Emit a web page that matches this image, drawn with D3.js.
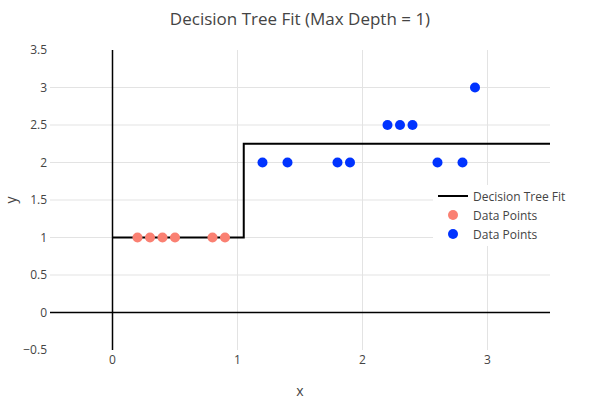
<!DOCTYPE html>
<html>
<head>
<meta charset="utf-8">
<script src="https://cdn.jsdelivr.net/npm/d3@7"></script>
<style>
  body { margin: 0; background: #fff; }
  text { font-family: "Open Sans", sans-serif; fill: #444; }
</style>
</head>
<body>
<svg id="chart"></svg>
<script>
const redX = [0.2, 0.3, 0.4, 0.5, 0.8, 0.9];
const redY = [1, 1, 1, 1, 1, 1];
const blueX = [1.2, 1.4, 1.8, 1.9, 2.2, 2.3, 2.4, 2.6, 2.8, 2.9];
const blueY = [2, 2, 2, 2, 2.5, 2.5, 2.5, 2, 2, 3];
const fitX = [0, 1.05, 3.6];
const fitY = [1, 2.25, 2.25];
const xTicks = [0, 1, 2, 3];
const yTicks = [-0.5, 0, 0.5, 1, 1.5, 2, 2.5, 3, 3.5];
const legendLabels = ["Decision Tree Fit", "Data Points", "Data Points"];

const width = 600, height = 400;
const margin = {top: 50, right: 50, bottom: 50, left: 50};

const svg = d3.select("#chart").attr("width", width).attr("height", height);

const x = d3.scaleLinear().domain([-0.5, 3.5]).range([margin.left, width - margin.right]);
const y = d3.scaleLinear().domain([-0.5, 3.5]).range([height - margin.bottom, margin.top]);

svg.append("defs").append("clipPath").attr("id", "clip")
  .append("rect")
  .attr("x", margin.left).attr("y", margin.top)
  .attr("width", width - margin.left - margin.right)
  .attr("height", height - margin.top - margin.bottom);

// grid
svg.append("g")
  .selectAll("line")
  .data(xTicks.filter(d => d !== 0))
  .enter().append("line")
  .attr("x1", d => x(d)).attr("x2", d => x(d))
  .attr("y1", margin.top).attr("y2", height - margin.bottom)
  .attr("stroke", "#e3e3e3");

svg.append("g")
  .selectAll("line")
  .data(yTicks.filter(d => d !== 0 && d > -0.5 && d < 3.5))
  .enter().append("line")
  .attr("x1", margin.left).attr("x2", width - margin.right)
  .attr("y1", d => y(d)).attr("y2", d => y(d))
  .attr("stroke", "#e3e3e3");

// zero lines
svg.append("line")
  .attr("x1", x(0)).attr("x2", x(0))
  .attr("y1", margin.top).attr("y2", height - margin.bottom)
  .attr("stroke", "#000").attr("stroke-width", 1.5);
svg.append("line")
  .attr("x1", margin.left).attr("x2", width - margin.right)
  .attr("y1", y(0)).attr("y2", y(0))
  .attr("stroke", "#000").attr("stroke-width", 1.5);

// tick labels
svg.append("g")
  .selectAll("text")
  .data(xTicks)
  .enter().append("text")
  .attr("x", d => x(d))
  .attr("y", height - margin.bottom + 14)
  .attr("text-anchor", "middle")
  .attr("font-size", 12)
  .text(d => d);

svg.append("g")
  .selectAll("text")
  .data(yTicks)
  .enter().append("text")
  .attr("x", margin.left - 3)
  .attr("y", d => y(d) + 4)
  .attr("text-anchor", "end")
  .attr("font-size", 12)
  .text(d => d < 0 ? "\u2212" + Math.abs(d) : d);

// fit line
const line = d3.line().x(d => x(d[0])).y(d => y(d[1])).curve(d3.curveStepAfter);
svg.append("path")
  .datum(fitX.map((d, i) => [d, fitY[i]]))
  .attr("clip-path", "url(#clip)")
  .attr("d", line)
  .attr("fill", "none")
  .attr("stroke", "#000")
  .attr("stroke-width", 2);

// points
svg.append("g")
  .selectAll("circle")
  .data(redX.map((d, i) => [d, redY[i]]))
  .enter().append("circle")
  .attr("cx", d => x(d[0])).attr("cy", d => y(d[1]))
  .attr("r", 5)
  .attr("fill", "#fa8072");

svg.append("g")
  .selectAll("circle")
  .data(blueX.map((d, i) => [d, blueY[i]]))
  .enter().append("circle")
  .attr("cx", d => x(d[0])).attr("cy", d => y(d[1]))
  .attr("r", 5)
  .attr("fill", "#0033ff");

// titles
svg.append("text")
  .attr("x", width / 2).attr("y", 25)
  .attr("text-anchor", "middle")
  .attr("font-size", 17)
  .text("Decision Tree Fit (Max Depth = 1)");

svg.append("text")
  .attr("x", width / 2).attr("y", 396)
  .attr("text-anchor", "middle")
  .attr("font-size", 14)
  .text("x");

svg.append("text")
  .attr("transform", `translate(16, ${(margin.top + height - margin.bottom) / 2}) rotate(-90)`)
  .attr("text-anchor", "middle")
  .attr("font-size", 14)
  .text("y");

// legend
const legend = svg.append("g").attr("transform", "translate(433, 185)");
legend.append("rect")
  .attr("width", 145).attr("height", 61)
  .attr("fill", "#fff");

const rows = legend.selectAll("g.row")
  .data(legendLabels)
  .enter().append("g")
  .attr("class", "row")
  .attr("transform", (d, i) => `translate(0, ${11 + i * 19})`);

rows.append("text")
  .attr("x", 40).attr("y", 5)
  .attr("font-size", 12)
  .text(d => d);

rows.filter((d, i) => i === 0).append("line")
  .attr("x1", 5).attr("x2", 35)
  .attr("stroke", "#000").attr("stroke-width", 2);

rows.filter((d, i) => i > 0).append("circle")
  .attr("cx", 20).attr("r", 5)
  .attr("fill", (d, i) => i === 0 ? "#fa8072" : "#0033ff");
</script>
</body>
</html>
